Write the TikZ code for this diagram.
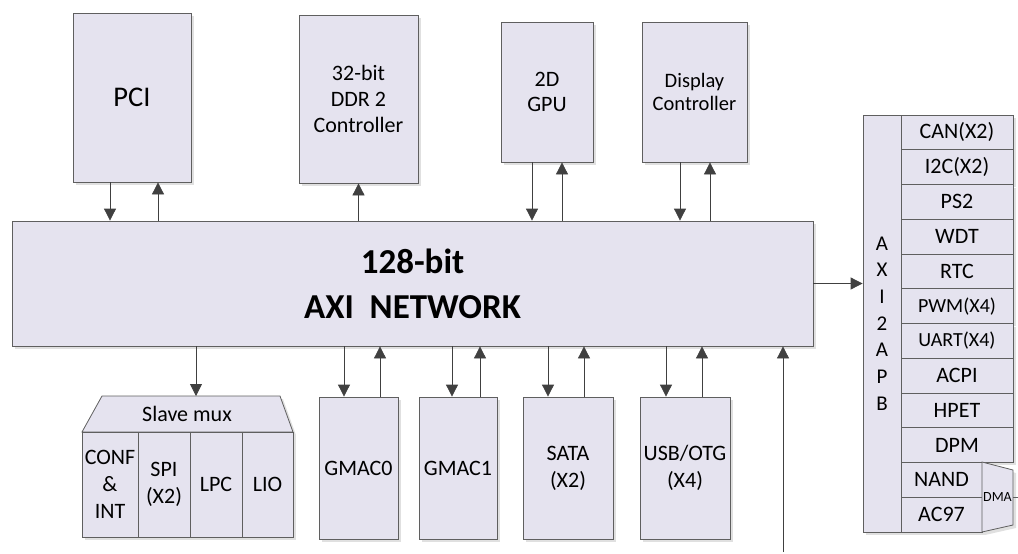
\documentclass[tikz,border=0pt]{standalone}
\usepackage{fontspec}
\setmainfont{Carlito}
\usepackage{tikz}
\usetikzlibrary{arrows.meta,shadows}
\definecolor{blockfill}{RGB}{229,227,239}
\definecolor{blockline}{RGB}{95,95,95}
\definecolor{arrowgray}{RGB}{64,64,64}

\begin{document}
\begin{tikzpicture}[x=1pt,y=-1pt]
  \tikzset{blockshadow/.style={drop shadow={shadow xshift=3pt,shadow yshift=-3pt,fill=black!12,opacity=1}}}
  \tikzset{blockbox/.style={rectangle,draw=blockline,fill=blockfill,line width=0.8pt,inner sep=0pt,align=center,font=\fontsize{22}{27}\selectfont,blockshadow}}
  \tikzset{cellbox/.style={blockbox,minimum width=112,minimum height=34.75,font=\fontsize{22}{26}\selectfont}}
  \tikzset{busarrow/.style={draw=arrowgray,line width=0.8pt,-{Triangle[length=12pt,width=12pt]}}}
  \useasboundingbox (0,0) rectangle (1018,554);
  % top blocks
  \node[blockbox,minimum width=118,minimum height=169,font=\fontsize{28.5}{34}\selectfont] (pci) at (132,97.5) {PCI};
  \node[blockbox,minimum width=119,minimum height=168,font=\fontsize{22}{26}\selectfont] (ddr) at (358.5,99) {32-bit\\DDR 2\\Controller};
  \node[blockbox,minimum width=92,minimum height=140,font=\fontsize{22}{25}\selectfont] (gpu) at (547,92) {2D\\GPU};
  \node[blockbox,minimum width=105,minimum height=140,font=\fontsize{20.5}{23}\selectfont] (disp) at (694.5,92) {Display\\Controller};
  % bus
  \node[blockbox,minimum width=801,minimum height=125,font=\bfseries\fontsize{35}{45}\selectfont] (bus) at (412.5,283.5) {128-bit\\AXI\ \ NETWORK};
  % bottom blocks
  \node[blockbox,minimum width=79,minimum height=142] (gmac0) at (358.5,468) {GMAC0};
  \node[blockbox,minimum width=78,minimum height=142] (gmac1) at (458,468) {GMAC1};
  \node[blockbox,minimum width=90,minimum height=142] (sata) at (568,468) {SATA\\(X2)};
  \node[blockbox,minimum width=90,minimum height=142] (usb) at (685,468) {USB/OTG\\(X4)};
  % slave mux
  \coordinate (muxtl) at (102,396);
  \coordinate (muxtr) at (280,396);
  \coordinate (muxbl) at (82,432);
  \coordinate (muxbr) at (293,432);
  \coordinate (muxin) at (196,396);
  \draw[draw=blockline,fill=blockfill,line width=0.8pt,blockshadow] (muxbl) -- (muxtl) -- (muxtr) -- (muxbr) -- cycle;
  \node[font=\fontsize{22}{27}\selectfont,inner sep=0pt] (muxlabel) at (187,414) {Slave mux};
  \node[blockbox,minimum width=56,minimum height=105] (conf) at (110,484.5) {CONF\\\&\\INT};
  \node[blockbox,minimum width=52,minimum height=105] (spi) at (164,484.5) {SPI\\(X2)};
  \node[blockbox,minimum width=52,minimum height=105] (lpc) at (216,484.5) {LPC};
  \node[blockbox,minimum width=51,minimum height=105] (lio) at (267.5,484.5) {LIO};
  % apb side
  \node[blockbox,minimum width=38,minimum height=417,font=\fontsize{21}{26.7}\selectfont] (apb) at (882,323.5) {A\\X\\I\\2\\A\\P\\B};
  \node[cellbox] (can) at (957,132.4) {CAN(X2)};
  \node[cellbox] (itwoc) at (957,167.1) {I2C(X2)};
  \node[cellbox] (pstwo) at (957,201.9) {PS2};
  \node[cellbox] (wdt) at (957,236.6) {WDT};
  \node[cellbox] (rtc) at (957,271.4) {RTC};
  \node[cellbox,font=\fontsize{20}{24}\selectfont] (pwm) at (957,306.1) {PWM(X4)};
  \node[cellbox,font=\fontsize{20}{24}\selectfont] (uart) at (957,340.9) {UART(X4)};
  \node[cellbox] (acpi) at (957,375.6) {ACPI};
  \node[cellbox] (hpet) at (957,410.4) {HPET};
  \node[cellbox] (dpm) at (957,445.1) {DPM};
  \node[cellbox,minimum width=81] (nand) at (941.5,479.9) {NAND};
  \node[cellbox,minimum width=81] (acnn) at (941.5,514.6) {AC97};
  \coordinate (dmatl) at (982,462);
  \coordinate (dmatr) at (1013,470);
  \coordinate (dmabr) at (1013,525);
  \coordinate (dmabl) at (982,532);
  \coordinate (dmaport) at (1013,497.5);
  \coordinate (dmaout) at (1018,497.5);
  \draw[draw=blockline,fill=blockfill,line width=0.8pt,blockshadow] (dmatl) -- (dmatr) -- (dmabr) -- (dmabl) -- cycle;
  \node[font=\fontsize{14}{16}\selectfont,inner sep=0pt] (dma) at (997.5,497.5) {DMA};
  \draw[draw=blockline,line width=0.6pt] (dmaport) -- (dmaout);
  % arrows to and from the bus
  \draw[busarrow] ([xshift=-22pt]pci.south) -- ([xshift=-22pt]pci.south |- bus.north);
  \draw[busarrow] ([xshift=26pt]pci.south |- bus.north) -- ([xshift=26pt]pci.south);
  \draw[busarrow] (ddr.south |- bus.north) -- (ddr.south);
  \draw[busarrow] ([xshift=-15pt]gpu.south) -- ([xshift=-15pt]gpu.south |- bus.north);
  \draw[busarrow] ([xshift=15pt]gpu.south |- bus.north) -- ([xshift=15pt]gpu.south);
  \draw[busarrow] ([xshift=-14.5pt]disp.south) -- ([xshift=-14.5pt]disp.south |- bus.north);
  \draw[busarrow] ([xshift=15.5pt]disp.south |- bus.north) -- ([xshift=15.5pt]disp.south);
  \draw[busarrow] (bus.east) -- (bus.east -| apb.west);
  \draw[busarrow] (muxin |- bus.south) -- (muxin);
  \draw[busarrow] ([xshift=-14.5pt]gmac0.north |- bus.south) -- ([xshift=-14.5pt]gmac0.north);
  \draw[busarrow] ([xshift=21.5pt]gmac0.north) -- ([xshift=21.5pt]gmac0.north |- bus.south);
  \draw[busarrow] ([xshift=-6pt]gmac1.north |- bus.south) -- ([xshift=-6pt]gmac1.north);
  \draw[busarrow] ([xshift=22pt]gmac1.north) -- ([xshift=22pt]gmac1.north |- bus.south);
  \draw[busarrow] ([xshift=-20pt]sata.north |- bus.south) -- ([xshift=-20pt]sata.north);
  \draw[busarrow] ([xshift=16pt]sata.north) -- ([xshift=16pt]sata.north |- bus.south);
  \draw[busarrow] ([xshift=-19pt]usb.north |- bus.south) -- ([xshift=-19pt]usb.north);
  \draw[busarrow] ([xshift=17pt]usb.north) -- ([xshift=17pt]usb.north |- bus.south);
  \coordinate (extin) at (783,552);
  \draw[busarrow] (extin) -- (extin |- bus.south);
\end{tikzpicture}
\end{document}
